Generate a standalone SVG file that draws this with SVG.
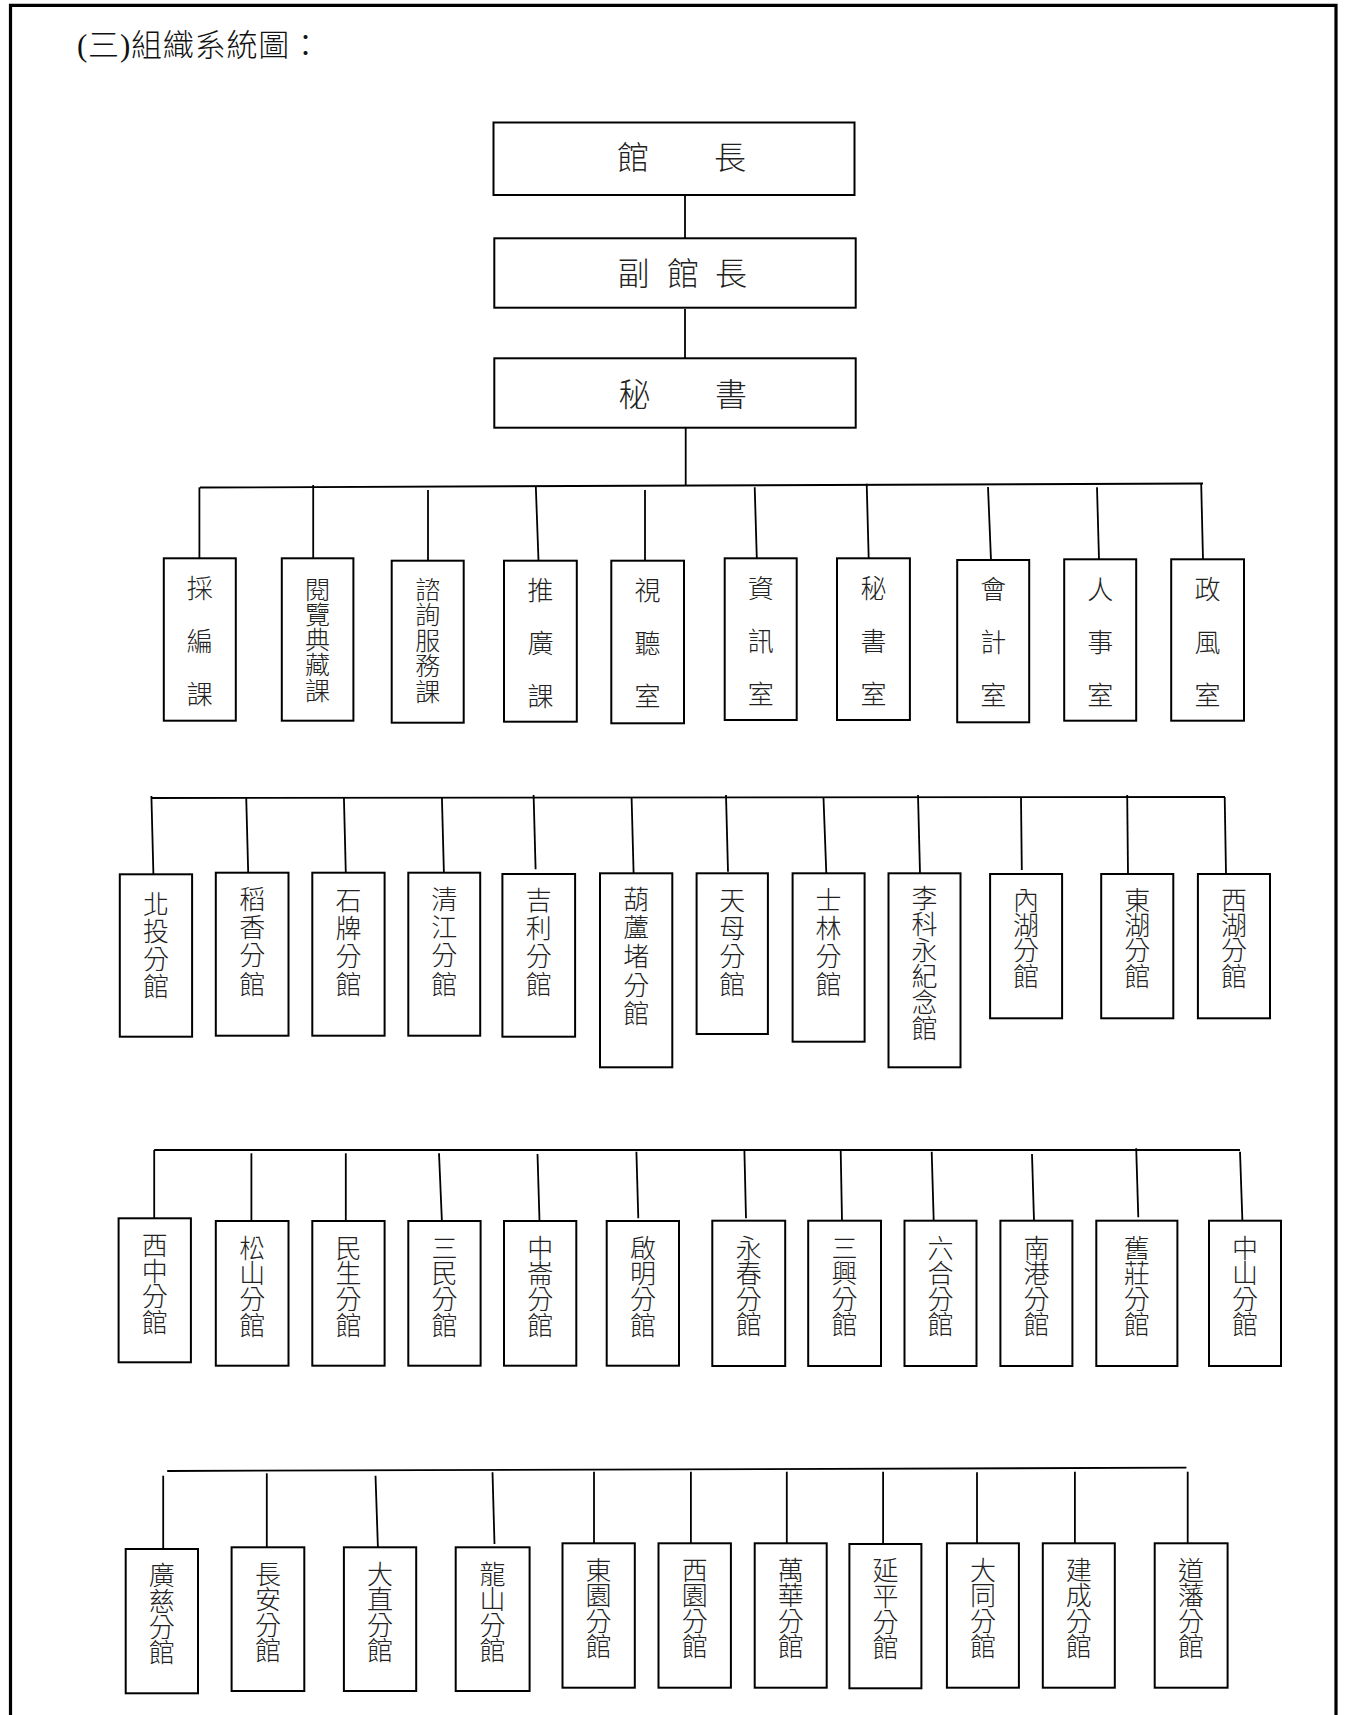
<svg xmlns="http://www.w3.org/2000/svg" width="1345" height="1715" viewBox="0 0 1345 1715">
<style>
  .box { fill: #ffffff; stroke: #000000; stroke-width: 2; }
  .conn line { stroke: #000000; stroke-width: 1.8; fill: none; }
  .frame { stroke: #000000; stroke-width: 3.2; fill: none; }
  .lbl { font-family: "Noto Sans CJK TC", "Noto Sans CJK SC", sans-serif; font-weight: 300; fill: #222222; }
  .top { font-size: 32px; text-anchor: middle; }
  .v { writing-mode: vertical-rl; text-anchor: start; }
  .f26 { font-size: 26px; }
  .f25 { font-size: 25px; }
  .title { font-family: "Liberation Serif", "Noto Sans CJK TC", serif; font-size: 31px; font-weight: 300; fill: #111111; letter-spacing: 0.8px; }
</style>
<rect x="0" y="0" width="1345" height="1715" fill="#ffffff"/>
<g id="frame">
  <polyline class="frame" points="10.5,1715 10.5,5.3 1336,5.3 1336,1715"/>
</g>
<text id="title" class="title" x="77" y="56">(三)組織系統圖：</text>

<g id="connectors" class="conn">
  <line x1="685" y1="195" x2="685" y2="238.3"/>
  <line x1="685" y1="309" x2="685" y2="358.3"/>
  <line x1="685.7" y1="427.7" x2="685.7" y2="486"/>
  <line x1="200" y1="487.5" x2="1203" y2="483.5"/>
  <line x1="199.4" y1="487.3" x2="199.4" y2="558.3"/>
  <line x1="313.2" y1="485" x2="313.2" y2="558.3"/>
  <line x1="428" y1="490" x2="428" y2="560.7"/>
  <line x1="535.8" y1="486" x2="538.5" y2="560.7"/>
  <line x1="645" y1="490" x2="645" y2="560.7"/>
  <line x1="754.7" y1="487.3" x2="756.8" y2="558.3"/>
  <line x1="866.7" y1="483.8" x2="868.7" y2="558.3"/>
  <line x1="988" y1="487" x2="991" y2="560"/>
  <line x1="1097" y1="487.3" x2="1099" y2="559.3"/>
  <line x1="1201.2" y1="484" x2="1203" y2="559.3"/>

  <line x1="151.4" y1="798" x2="1225" y2="797"/>
  <line x1="151.4" y1="796" x2="153.4" y2="874.3"/>
  <line x1="246.2" y1="797" x2="248.2" y2="872.7"/>
  <line x1="343.9" y1="797" x2="345.8" y2="872.7"/>
  <line x1="441.9" y1="797" x2="443.9" y2="872.7"/>
  <line x1="533.6" y1="795" x2="535.6" y2="869.3"/>
  <line x1="631.6" y1="798" x2="633.6" y2="873.3"/>
  <line x1="726" y1="795" x2="728" y2="871.7"/>
  <line x1="823.5" y1="798" x2="826.3" y2="873.3"/>
  <line x1="918" y1="795" x2="920" y2="873.3"/>
  <line x1="1021" y1="798" x2="1021.8" y2="870"/>
  <line x1="1127.2" y1="795" x2="1128" y2="874"/>
  <line x1="1224.7" y1="797" x2="1226" y2="874"/>

  <line x1="154.2" y1="1150" x2="1240" y2="1150"/>
  <line x1="154.2" y1="1150" x2="154.2" y2="1218.3"/>
  <line x1="251.4" y1="1153.3" x2="251.4" y2="1221"/>
  <line x1="345.8" y1="1153.3" x2="345.8" y2="1221"/>
  <line x1="439" y1="1153.3" x2="441.9" y2="1221"/>
  <line x1="537.5" y1="1154" x2="539.5" y2="1221"/>
  <line x1="636.4" y1="1151.7" x2="638.3" y2="1218.3"/>
  <line x1="744.4" y1="1150.7" x2="746" y2="1218.3"/>
  <line x1="840.7" y1="1150.7" x2="842" y2="1220.7"/>
  <line x1="931.7" y1="1151.7" x2="933.7" y2="1220.7"/>
  <line x1="1032" y1="1154" x2="1034" y2="1220.7"/>
  <line x1="1136.2" y1="1148.3" x2="1138.3" y2="1217.3"/>
  <line x1="1240" y1="1151.7" x2="1242.4" y2="1220.7"/>

  <line x1="167.2" y1="1471" x2="1186.4" y2="1467.7"/>
  <line x1="163.2" y1="1475.7" x2="163.2" y2="1549"/>
  <line x1="266.8" y1="1473.3" x2="266.8" y2="1547.3"/>
  <line x1="375.5" y1="1475.7" x2="377.9" y2="1547.3"/>
  <line x1="492.5" y1="1472.3" x2="494.5" y2="1544"/>
  <line x1="594" y1="1471.7" x2="594" y2="1543.3"/>
  <line x1="690.9" y1="1471.7" x2="690.9" y2="1543.3"/>
  <line x1="786.8" y1="1471.7" x2="786.8" y2="1543.3"/>
  <line x1="883.1" y1="1471.7" x2="883.1" y2="1544"/>
  <line x1="977" y1="1472.3" x2="977" y2="1543.3"/>
  <line x1="1074.9" y1="1471.7" x2="1074.9" y2="1543.3"/>
  <line x1="1187.7" y1="1471.7" x2="1187.7" y2="1543.3"/>
</g>

<!-- top chain -->
<g id="n-guanzhang">
  <rect class="box" x="493.5" y="122.5" width="361" height="72.5"/>
  <text class="lbl top"><tspan x="633" y="169">館</tspan><tspan x="730" y="169">長</tspan></text>
</g>
<g id="n-fuguanzhang">
  <rect class="box" x="494.3" y="238.3" width="361.4" height="69.4"/>
  <text class="lbl top"><tspan x="633.5" y="285">副</tspan><tspan x="683" y="285">館</tspan><tspan x="731" y="285">長</tspan></text>
</g>
<g id="n-mishu">
  <rect class="box" x="494.3" y="358.3" width="361.4" height="69.4"/>
  <text class="lbl top"><tspan x="634.5" y="406">秘</tspan><tspan x="731" y="406">書</tspan></text>
</g>

<!-- row 1 -->
<g id="n-caibian">
  <rect class="box" x="163.8" y="558.3" width="72" height="162.4"/>
  <text class="lbl v f26" x="199.8" y="574.8" letter-spacing="27">採編課</text>
</g>
<g id="n-yuelan">
  <rect class="box" x="281.8" y="558.3" width="71.6" height="162.4"/>
  <text class="lbl v f25" x="317.6" y="576.5" letter-spacing="0.3">閱覽典藏課</text>
</g>
<g id="n-zixun">
  <rect class="box" x="391.7" y="560.7" width="72" height="162"/>
  <text class="lbl v f25" x="427.7" y="576.5" letter-spacing="0.5">諮詢服務課</text>
</g>
<g id="n-tuiguang">
  <rect class="box" x="504" y="560.7" width="72.8" height="161"/>
  <text class="lbl v f26" x="540.4" y="577.2" letter-spacing="27">推廣課</text>
</g>
<g id="n-shiting">
  <rect class="box" x="611.3" y="560.7" width="72.7" height="162.6"/>
  <text class="lbl v f26" x="647.6" y="577.2" letter-spacing="27">視聽室</text>
</g>
<g id="n-zixunshi">
  <rect class="box" x="724.7" y="558.3" width="72" height="161.7"/>
  <text class="lbl v f26" x="760.7" y="574.8" letter-spacing="27">資訊室</text>
</g>
<g id="n-mishushi">
  <rect class="box" x="837" y="558.3" width="72.9" height="161.7"/>
  <text class="lbl v f26" x="873.4" y="574.8" letter-spacing="27">秘書室</text>
</g>
<g id="n-kuaiji">
  <rect class="box" x="957.2" y="560" width="72" height="162.3"/>
  <text class="lbl v f26" x="993.2" y="576.5" letter-spacing="27">會計室</text>
</g>
<g id="n-renshi">
  <rect class="box" x="1064.2" y="559.3" width="72" height="161.4"/>
  <text class="lbl v f26" x="1100.2" y="575.8" letter-spacing="27">人事室</text>
</g>
<g id="n-zhengfeng">
  <rect class="box" x="1171.2" y="559.3" width="72.8" height="161.4"/>
  <text class="lbl v f26" x="1207.6" y="575.8" letter-spacing="27">政風室</text>
</g>

<!-- row 2 -->
<g id="n-beitou">
  <rect class="box" x="119.8" y="874.3" width="72.3" height="162.4"/>
  <text class="lbl v f26" x="156" y="890.8" letter-spacing="1.5">北投分館</text>
</g>
<g id="n-daoxiang">
  <rect class="box" x="215.8" y="872.7" width="72.7" height="163"/>
  <text class="lbl v f26" x="252.2" y="886" letter-spacing="2.3">稻香分館</text>
</g>
<g id="n-shipai">
  <rect class="box" x="312.3" y="872.7" width="72.3" height="163"/>
  <text class="lbl v f26" x="348.5" y="887" letter-spacing="2">石牌分館</text>
</g>
<g id="n-qingjiang">
  <rect class="box" x="408.3" y="872.7" width="71.9" height="163"/>
  <text class="lbl v f26" x="444.3" y="886" letter-spacing="2.3">清江分館</text>
</g>
<g id="n-jili">
  <rect class="box" x="502.4" y="874" width="72.7" height="162.7"/>
  <text class="lbl v f26" x="538.8" y="887" letter-spacing="2">吉利分館</text>
</g>
<g id="n-huludu">
  <rect class="box" x="600" y="873.3" width="72.3" height="194"/>
  <text class="lbl v f26" x="636.2" y="886" letter-spacing="2.6">葫蘆堵分館</text>
</g>
<g id="n-tianmu">
  <rect class="box" x="696.6" y="873.3" width="71.3" height="160.7"/>
  <text class="lbl v f26" x="732.3" y="887" letter-spacing="2">天母分館</text>
</g>
<g id="n-shilin">
  <rect class="box" x="792.6" y="873.3" width="72" height="168.4"/>
  <text class="lbl v f26" x="828.6" y="887" letter-spacing="2">士林分館</text>
</g>
<g id="n-likeyong">
  <rect class="box" x="888.5" y="873.3" width="72" height="194"/>
  <text class="lbl v f26" x="924.5" y="885" letter-spacing="0.1">李科永紀念館</text>
</g>
<g id="n-neihu">
  <rect class="box" x="990.1" y="874" width="72" height="144.3"/>
  <text class="lbl v f26" x="1026.1" y="887" letter-spacing="-0.7">內湖分館</text>
</g>
<g id="n-donghu">
  <rect class="box" x="1101.2" y="874" width="72.1" height="144.3"/>
  <text class="lbl v f26" x="1137.2" y="887" letter-spacing="-0.7">東湖分館</text>
</g>
<g id="n-xihu">
  <rect class="box" x="1197.9" y="874" width="72.1" height="144.3"/>
  <text class="lbl v f26" x="1233.9" y="887" letter-spacing="-0.7">西湖分館</text>
</g>

<!-- row 3 -->
<g id="n-xizhong">
  <rect class="box" x="118.6" y="1218.3" width="72.3" height="144"/>
  <text class="lbl v f26" x="154.7" y="1232.3" letter-spacing="-0.4">西中分館</text>
</g>
<g id="n-songshan">
  <rect class="box" x="215.8" y="1221" width="72.7" height="144.7"/>
  <text class="lbl v f26" x="252.2" y="1235" letter-spacing="-0.4">松山分館</text>
</g>
<g id="n-minsheng">
  <rect class="box" x="312.3" y="1221" width="72.3" height="144.7"/>
  <text class="lbl v f26" x="348.5" y="1235" letter-spacing="-0.4">民生分館</text>
</g>
<g id="n-sanmin">
  <rect class="box" x="408.3" y="1221" width="72.3" height="144.7"/>
  <text class="lbl v f26" x="444.5" y="1235" letter-spacing="-0.4">三民分館</text>
</g>
<g id="n-zhonglun">
  <rect class="box" x="504" y="1221" width="72.3" height="144.7"/>
  <text class="lbl v f26" x="540.2" y="1235" letter-spacing="-0.4">中崙分館</text>
</g>
<g id="n-qiming">
  <rect class="box" x="606.7" y="1221" width="72.3" height="144.7"/>
  <text class="lbl v f26" x="642.9" y="1235" letter-spacing="-0.4">啟明分館</text>
</g>
<g id="n-yongchun">
  <rect class="box" x="712.3" y="1220.7" width="72.9" height="145.3"/>
  <text class="lbl v f26" x="748.8" y="1234.7" letter-spacing="-0.4">永春分館</text>
</g>
<g id="n-sanxing">
  <rect class="box" x="808.2" y="1220.7" width="72.8" height="145.3"/>
  <text class="lbl v f26" x="844.6" y="1234.7" letter-spacing="-0.4">三興分館</text>
</g>
<g id="n-liuhe">
  <rect class="box" x="904.5" y="1220.7" width="72" height="145.3"/>
  <text class="lbl v f26" x="940.5" y="1234.7" letter-spacing="-0.4">六合分館</text>
</g>
<g id="n-nangang">
  <rect class="box" x="1000.4" y="1220.7" width="72" height="145.3"/>
  <text class="lbl v f26" x="1036.4" y="1234.7" letter-spacing="-0.4">南港分館</text>
</g>
<g id="n-jiuzhuang">
  <rect class="box" x="1096.3" y="1220.7" width="81.1" height="145.3"/>
  <text class="lbl v f26" x="1136.8" y="1234.7" letter-spacing="-0.4">舊莊分館</text>
</g>
<g id="n-zhongshan">
  <rect class="box" x="1209" y="1220.7" width="72" height="145.3"/>
  <text class="lbl v f26" x="1245" y="1234.7" letter-spacing="-0.4">中山分館</text>
</g>

<!-- row 4 -->
<g id="n-guangci">
  <rect class="box" x="125.7" y="1549" width="72.3" height="144.3"/>
  <text class="lbl v f26" x="161.8" y="1562.5" letter-spacing="-0.4">廣慈分館</text>
</g>
<g id="n-changan">
  <rect class="box" x="231.6" y="1547.3" width="72.7" height="143.7"/>
  <text class="lbl v f26" x="268" y="1560.8" letter-spacing="-0.4">長安分館</text>
</g>
<g id="n-dazhi">
  <rect class="box" x="343.9" y="1547.3" width="72.3" height="143.7"/>
  <text class="lbl v f26" x="380" y="1560.8" letter-spacing="-0.4">大直分館</text>
</g>
<g id="n-longshan">
  <rect class="box" x="455.7" y="1547.3" width="73.9" height="143.7"/>
  <text class="lbl v f26" x="492.6" y="1560.8" letter-spacing="-0.4">龍山分館</text>
</g>
<g id="n-dongyuan">
  <rect class="box" x="562.5" y="1543.3" width="72.3" height="144.4"/>
  <text class="lbl v f26" x="598.6" y="1556.8" letter-spacing="-0.4">東園分館</text>
</g>
<g id="n-xiyuan">
  <rect class="box" x="658.5" y="1543.3" width="72.4" height="144.4"/>
  <text class="lbl v f26" x="694.7" y="1556.8" letter-spacing="-0.4">西園分館</text>
</g>
<g id="n-wanhua">
  <rect class="box" x="754.7" y="1543.3" width="72" height="144.4"/>
  <text class="lbl v f26" x="790.7" y="1556.8" letter-spacing="-0.4">萬華分館</text>
</g>
<g id="n-yanping">
  <rect class="box" x="849.4" y="1544" width="72" height="144.3"/>
  <text class="lbl v f26" x="885.4" y="1557.5" letter-spacing="-0.4">延平分館</text>
</g>
<g id="n-datong">
  <rect class="box" x="946.9" y="1543.3" width="72" height="144.4"/>
  <text class="lbl v f26" x="982.9" y="1556.8" letter-spacing="-0.4">大同分館</text>
</g>
<g id="n-jiancheng">
  <rect class="box" x="1042.8" y="1543.3" width="72" height="144.4"/>
  <text class="lbl v f26" x="1078.8" y="1556.8" letter-spacing="-0.4">建成分館</text>
</g>
<g id="n-daofan">
  <rect class="box" x="1154.7" y="1543.3" width="72.9" height="144.4"/>
  <text class="lbl v f26" x="1191.1" y="1556.8" letter-spacing="-0.4">道藩分館</text>
</g>
</svg>
